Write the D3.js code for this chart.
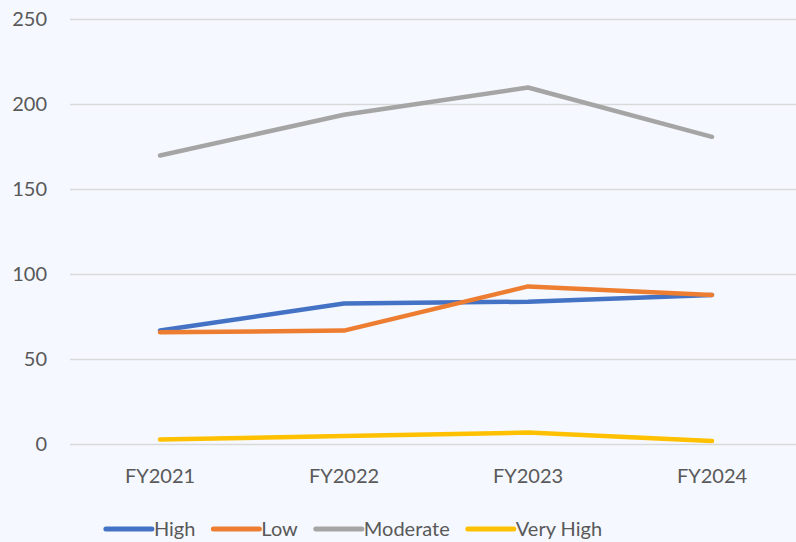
<!DOCTYPE html>
<html>
<head>
<meta charset="utf-8">
<script src="https://d3js.org/d3.v7.min.js"></script>
<style>
  body { margin: 0; background: #f5f8fe; }
  svg { display: block; }
  text { font-family: Lato, "Open Sans", sans-serif; fill: #595959; }
</style>
</head>
<body>
<div class="chart"></div>
<script>
const years = ['FY2021', 'FY2022', 'FY2023', 'FY2024'];
const seriesNames = ['High', 'Low', 'Moderate', 'Very High'];
const high = [67, 83, 84, 88];
const low = [66, 67, 93, 88];
const moderate = [170, 194, 210, 181];
const veryHigh = [3, 5, 7, 2];
const yTicks = [0, 50, 100, 150, 200, 250];
const colors = ['#4472C4', '#ED7D31', '#A5A5A5', '#FFC000'];

const series = [high, low, moderate, veryHigh].map((v, i) => ({ name: seriesNames[i], values: v }));

const width = 796, height = 542;
const svg = d3.select('.chart').append('svg')
    .attr('width', width)
    .attr('height', height);

const x = d3.scaleBand().domain(years).range([68, 804]);
const y = d3.scaleLinear().domain([0, 250]).range([444.5, 19.5]);

// gridlines
svg.append('g')
    .selectAll('line')
    .data(yTicks)
    .join('line')
    .attr('x1', 70).attr('x2', width)
    .attr('y1', d => y(d)).attr('y2', d => y(d))
    .attr('stroke', '#d9d9d9')
    .attr('stroke-width', 1.5);

// y axis labels
const yAxis = d3.axisLeft(y).tickValues(yTicks).tickSize(0).tickPadding(0);
svg.append('g')
    .attr('transform', 'translate(47,0)')
    .call(yAxis)
    .call(g => g.select('.domain').remove())
    .call(g => g.selectAll('text').attr('font-size', 20).attr('fill', '#595959').attr('font-family', 'Lato, sans-serif'));

// x axis labels
const xAxis = d3.axisBottom(x).tickSize(0).tickPadding(0);
svg.append('g')
    .attr('transform', 'translate(0,469)')
    .call(xAxis)
    .call(g => g.select('.domain').remove())
    .call(g => g.selectAll('text').attr('font-size', 20).attr('fill', '#595959').attr('font-family', 'Lato, sans-serif'));

const line = d3.line()
    .x((d, i) => x(years[i]) + x.bandwidth() / 2)
    .y(d => y(d));

svg.append('g')
    .selectAll('path')
    .data(series)
    .join('path')
    .attr('fill', 'none')
    .attr('stroke', (d, i) => colors[i])
    .attr('stroke-width', 4.5)
    .attr('stroke-linecap', 'round')
    .attr('stroke-linejoin', 'round')
    .attr('d', d => line(d.values));

// legend, centred like the reference
const legend = svg.append('g');
const ly = 529;
let lx = 0;
series.forEach((s, i) => {
    legend.append('line')
        .attr('x1', lx).attr('x2', lx + 46)
        .attr('y1', ly).attr('y2', ly)
        .attr('stroke', colors[i])
        .attr('stroke-width', 5)
        .attr('stroke-linecap', 'round');
    const t = legend.append('text')
        .attr('x', lx + 48)
        .attr('y', ly)
        .attr('dy', '0.35em')
        .attr('font-size', 20)
        .text(s.name);
    lx += 48 + t.node().getComputedTextLength() + (i < series.length - 1 ? 18 : 0);
});
legend.attr('transform', `translate(${354 - lx / 2},0)`);
</script>
</body>
</html>
